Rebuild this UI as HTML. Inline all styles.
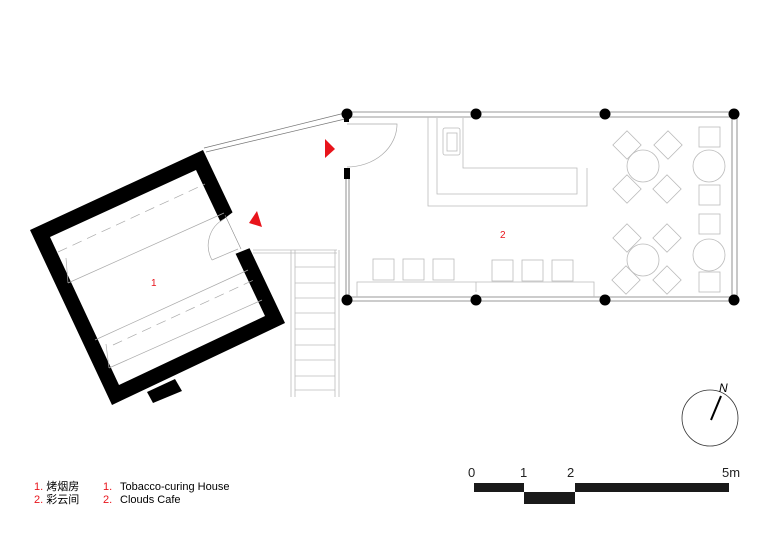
<!DOCTYPE html>
<html><head><meta charset="utf-8"><style>
html,body{margin:0;padding:0;background:#fff}
svg{display:block}
text{font-family:"Liberation Sans","Noto Sans CJK SC",sans-serif}
</style></head><body>
<svg width="780" height="552" viewBox="0 0 780 552" xmlns="http://www.w3.org/2000/svg">
<!-- tobacco house walls -->
<path d="M30,230 L203,150 L285,323 L112,405 Z M50,237 L119,385 L265,316 L196,170 Z" fill="#000" fill-rule="evenodd"/>
<polygon points="147,392 175,379 182,391 153,403" fill="#000"/>
<!-- door gap -->
<polygon points="220,222 233,212 250,248 235,254" fill="#fff"/>
<line x1="225" y1="215" x2="241" y2="249" stroke="#888" stroke-width="0.6"/>
<path d="M212,260 L238,249 M212,260 A30,30 0 0 1 224,219" fill="none" stroke="#aaa" stroke-width="0.7"/>
<!-- interior lines -->
<g stroke="#aaa" stroke-width="0.7" fill="none">
<line x1="68" y1="283" x2="224" y2="213"/>
<line x1="95" y1="340" x2="248" y2="270"/>
<line x1="58" y1="252" x2="205" y2="184" stroke-dasharray="10,6"/>
<line x1="66" y1="258" x2="68" y2="283"/>
<line x1="113" y1="345" x2="258" y2="278" stroke-dasharray="10,6"/>
<line x1="106" y1="344" x2="109" y2="368"/>
<line x1="109" y1="368" x2="262" y2="300"/>
</g>
<!-- connector wall -->
<g stroke="#777" stroke-width="0.7">
<line x1="204" y1="148" x2="345" y2="113"/>
<line x1="206" y1="152" x2="345" y2="119"/>
</g>
<!-- stair -->
<g stroke="#bbb" stroke-width="0.8" fill="none">
<line x1="253" y1="250" x2="337" y2="250"/>
<line x1="253" y1="253" x2="337" y2="253"/>
<line x1="291" y1="250" x2="291" y2="397"/>
<line x1="295" y1="250" x2="295" y2="397"/>
<line x1="335" y1="250" x2="335" y2="397"/>
<line x1="339" y1="250" x2="339" y2="397"/>
<line x1="295" y1="267" x2="335" y2="267"/><line x1="295" y1="283" x2="335" y2="283"/>
<line x1="295" y1="298" x2="335" y2="298"/><line x1="295" y1="313" x2="335" y2="313"/>
<line x1="295" y1="329" x2="335" y2="329"/><line x1="295" y1="345" x2="335" y2="345"/>
<line x1="295" y1="360" x2="335" y2="360"/><line x1="295" y1="376" x2="335" y2="376"/>
<line x1="295" y1="390" x2="335" y2="390"/>
</g>
<!-- cafe walls -->
<g stroke="#777" stroke-width="0.8" fill="none">
<line x1="347" y1="112" x2="734" y2="112"/>
<line x1="347" y1="117" x2="734" y2="117"/>
<line x1="732" y1="113" x2="732" y2="300"/>
<line x1="737" y1="113" x2="737" y2="300"/>
<line x1="346" y1="178" x2="346" y2="295"/>
<line x1="349" y1="178" x2="349" y2="295"/>
<line x1="347" y1="297" x2="734" y2="297"/>
<line x1="347" y1="301" x2="734" y2="301"/>
</g>
<rect x="344" y="168" width="6" height="11" fill="#000"/>
<rect x="344" y="114" width="5" height="8" fill="#000"/>
<path d="M347,124 L397,124 A50,43 0 0 1 347,167" fill="none" stroke="#aaa" stroke-width="0.7"/>
<g fill="#000">
<circle cx="347" cy="114" r="5.5"/><circle cx="476" cy="114" r="5.5"/><circle cx="605" cy="114" r="5.5"/><circle cx="734" cy="114" r="5.5"/>
<circle cx="347" cy="300" r="5.5"/><circle cx="476" cy="300" r="5.5"/><circle cx="605" cy="300" r="5.5"/><circle cx="734" cy="300" r="5.5"/>
</g>
<!-- bar -->
<g stroke="#bbb" stroke-width="0.8" fill="none">
<polyline points="428,117 428,206 587,206 587,168"/>
<polyline points="437,118 437,194 577,194 577,168 463,168 463,118"/>
<rect x="443" y="128" width="17" height="27" rx="2"/>
<rect x="447" y="133" width="10" height="18"/>
<circle cx="643" cy="166" r="16"/><circle cx="643" cy="260" r="16"/>
<circle cx="709" cy="166" r="16"/><circle cx="709" cy="255" r="16"/>
<g>
<rect x="617" y="135" width="20" height="20" transform="rotate(45 627 145)"/>
<rect x="658" y="135" width="20" height="20" transform="rotate(45 668 145)"/>
<rect x="617" y="179" width="20" height="20" transform="rotate(45 627 189)"/>
<rect x="657" y="179" width="20" height="20" transform="rotate(45 667 189)"/>
<rect x="617" y="228" width="20" height="20" transform="rotate(45 627 238)"/>
<rect x="657" y="228" width="20" height="20" transform="rotate(45 667 238)"/>
<rect x="616" y="270" width="20" height="20" transform="rotate(45 626 280)"/>
<rect x="657" y="270" width="20" height="20" transform="rotate(45 667 280)"/>
</g>
<rect x="699" y="127" width="21" height="20"/><rect x="699" y="185" width="21" height="20"/>
<rect x="699" y="214" width="21" height="20"/><rect x="699" y="272" width="21" height="20"/>
<rect x="373" y="259" width="21" height="21"/><rect x="403" y="259" width="21" height="21"/><rect x="433" y="259" width="21" height="21"/>
<rect x="492" y="260" width="21" height="21"/><rect x="522" y="260" width="21" height="21"/><rect x="552" y="260" width="21" height="21"/>
<polyline points="357,297 357,282 594,282 594,297"/>
<line x1="476" y1="282" x2="476" y2="292"/>
</g>
<!-- red markers -->
<polygon points="325,139 325,158 335,149" fill="#e8141b"/>
<polygon points="249,223 257,211 262,227" fill="#e8141b"/>
<text x="151" y="286" font-size="10" fill="#e8141b">1</text>
<text x="500" y="238" font-size="10" fill="#e8141b">2</text>
<!-- compass -->
<circle cx="710" cy="418" r="28" fill="none" stroke="#333" stroke-width="0.8"/>
<line x1="711" y1="420" x2="721" y2="396" stroke="#000" stroke-width="2"/>
<text x="719" y="392" font-size="12" font-style="italic" font-family="Liberation Serif,serif">N</text>
<!-- scale -->
<rect x="474" y="483" width="50" height="9" fill="#1a1a1a"/>
<rect x="524" y="492" width="51" height="12" fill="#1a1a1a"/>
<rect x="575" y="483" width="154" height="9" fill="#1a1a1a"/>
<g font-size="13" fill="#222">
<text x="468" y="477">0</text><text x="520" y="477">1</text><text x="567" y="477">2</text><text x="722" y="477">5m</text>
</g>
<!-- legend -->
<g font-size="11">
<text x="34" y="490"><tspan fill="#e8141b">1.</tspan> 烤烟房</text>
<text x="34" y="503"><tspan fill="#e8141b">2.</tspan> 彩云间</text>
<text x="103" y="490"><tspan fill="#e8141b">1.</tspan><tspan x="120">Tobacco-curing House</tspan></text>
<text x="103" y="503"><tspan fill="#e8141b">2.</tspan><tspan x="120">Clouds Cafe</tspan></text>
</g>
</svg>
</body></html>
